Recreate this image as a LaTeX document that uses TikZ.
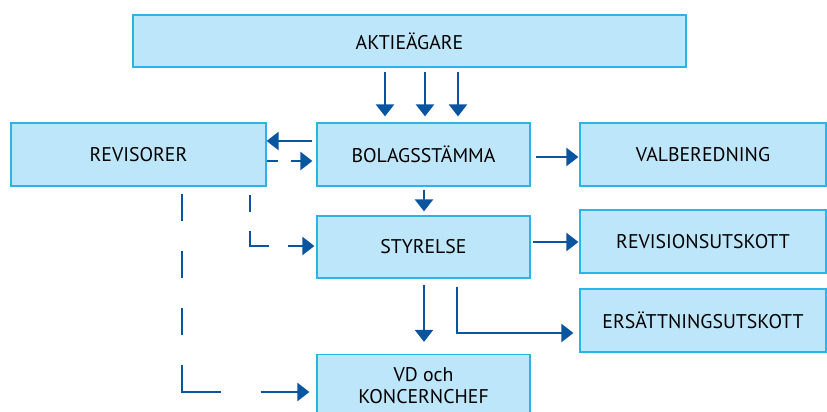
\documentclass[tikz,border=0pt]{standalone}
\usepackage{fontspec}
\setmainfont{PT Sans}
\usetikzlibrary{arrows.meta}
\definecolor{boxfill}{HTML}{BEE6FA}
\definecolor{boxline}{HTML}{2BB4E6}
\definecolor{arrcol}{HTML}{0A55A0}
\begin{document}
\begin{tikzpicture}[x=1pt,y=-1pt,
  box/.style={draw=boxline,fill=boxfill,line width=1.2pt,inner sep=0pt,align=center,
    font=\fontsize{19.8}{22}\selectfont},
  arr/.style={draw=arrcol,line width=2.4pt,-{Triangle[length=12pt,width=18pt]}},
]
\useasboundingbox (0,0) rectangle (827,412);
\node[box,minimum width=553,minimum height=52] (akt) at (409.5,41) {AKTIEÄGARE};
\node[box,minimum width=255,minimum height=63] (rev) at (138.5,154.5) {REVISORER};
\node[box,minimum width=213,minimum height=63] (bol) at (423.5,154.5) {BOLAGSSTÄMMA};
\node[box,minimum width=246,minimum height=63] (val) at (703,154.5) {VALBEREDNING};
\node[box,minimum width=213,minimum height=62] (sty) at (423.5,247) {STYRELSE};
\node[box,minimum width=246,minimum height=63] (revu) at (703,241.5) {REVISIONSUTSKOTT};
\node[box,minimum width=246,minimum height=63] (ers) at (703,320.5) {ERSÄTTNINGSUTSKOTT};
\node[box,minimum width=213,minimum height=63] (vd) at (423.5,386) {VD och\\KONCERNCHEF};

% shareholders to AGM
\foreach \x in {385,425,458}
  \draw[arr,shorten <=4pt,shorten >=6pt] (akt.south -| \x,0) -- (bol.north -| \x,0);
% AGM to auditors
\draw[arr,shorten <=4pt] (bol.west |- 0,141) -- (rev.east |- 0,141);
% auditors to AGM (dashed)
\draw[arr,dash pattern=on 11pt off 13pt on 60pt off 5pt,shorten >=4pt] (rev.east |- 0,161) -- (bol.west |- 0,161);
% AGM to nomination committee
\draw[arr,shorten <=5pt,shorten >=1pt] (bol.east |- 0,157) -- (val.west |- 0,157);
% AGM to board
\draw[arr,shorten <=3pt,shorten >=4pt] (bol.south -| 424,0) -- (sty.north -| 424,0);
% board to audit committee
\draw[arr,shorten <=2pt,shorten >=1pt] (sty.east |- 0,242) -- (revu.west |- 0,242);
% board to CEO
\draw[arr,shorten <=6pt,shorten >=12pt] (sty.south -| 424,0) -- (vd.north -| 424,0);
% board to remuneration committee
\draw[arr,shorten <=8pt,shorten >=6pt] (sty.south -| 457,0) |- (ers.west |- 0,333);
% auditors to board (dashed)
\draw[arr,dash pattern=on 17pt off 19pt on 34pt off 19pt on 60pt off 5pt,shorten <=8pt,shorten >=2pt]
  (rev.south -| 250,0) |- (sty.west |- 0,246);
% auditors to CEO (dashed)
\draw[arr,dash pattern=on 27pt off 30pt on 27pt off 30pt on 27pt off 30pt on 66pt off 40pt on 70pt off 5pt,shorten <=7pt,shorten >=7pt]
  (rev.south -| 182,0) |- (vd.west |- 0,392);
\end{tikzpicture}
\end{document}
